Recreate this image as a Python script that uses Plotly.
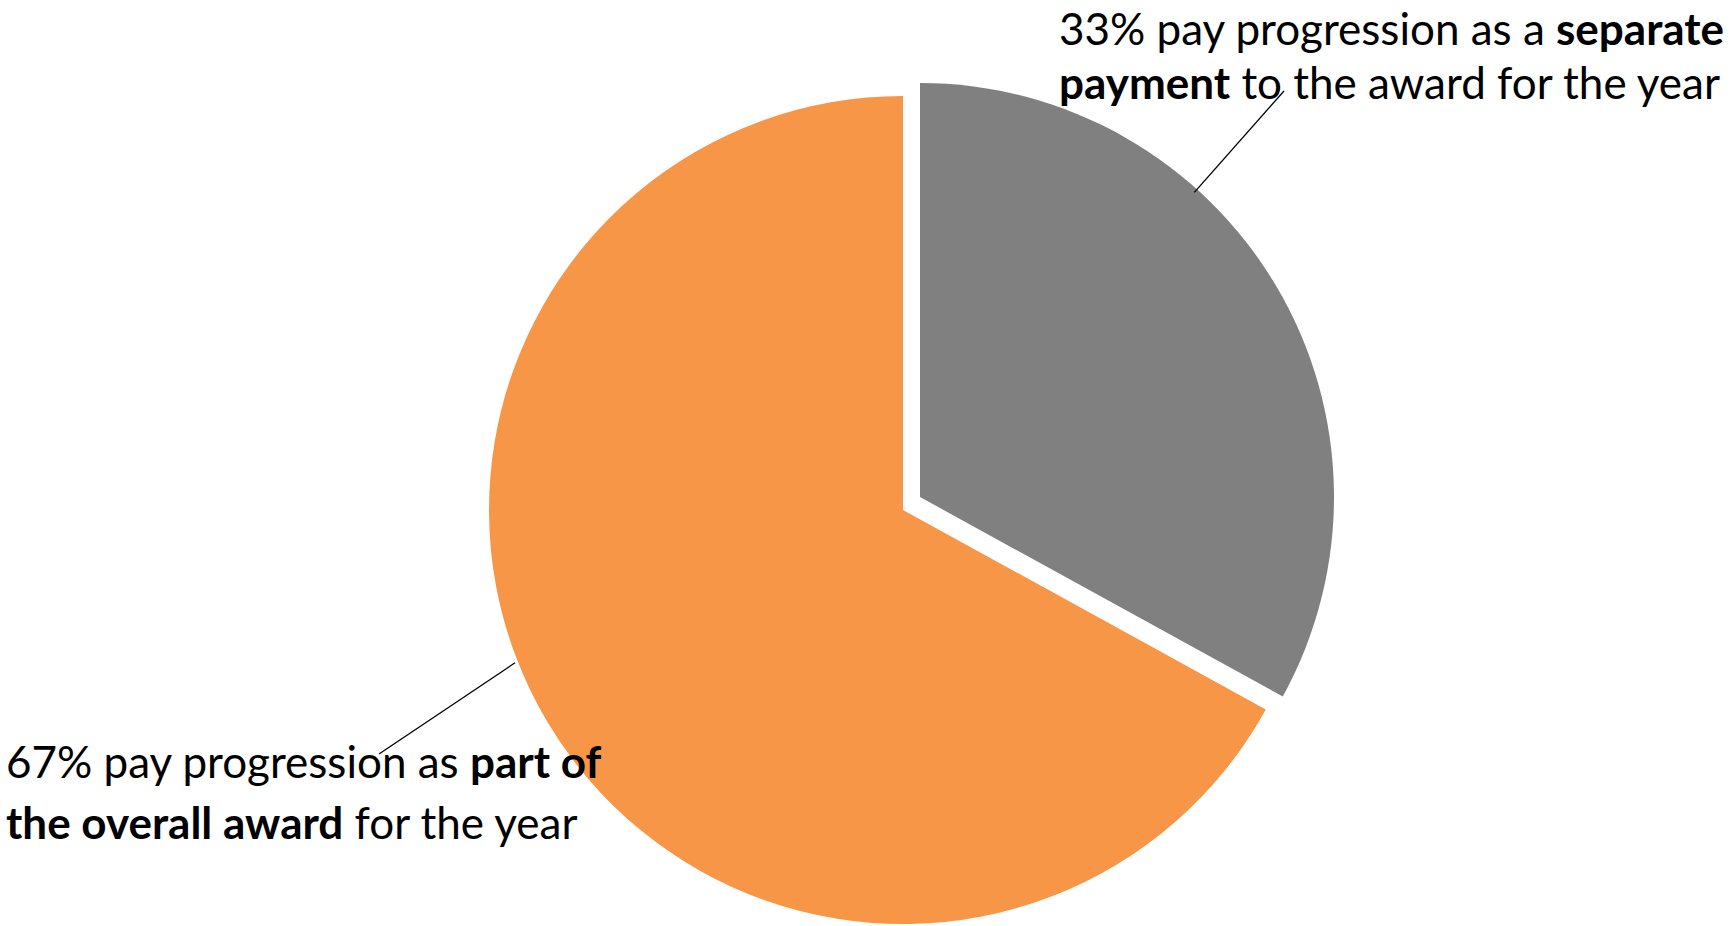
import math
import plotly.graph_objects as go

# Survey result: how pay progression is delivered
labels = ["separate payment", "part of the overall award"]
shares = [33, 67]
colors = ["#808080", "#F79646"]

label_lines = [
    ["33% pay progression as a <b>separate</b>",
     "<b>payment</b> to the award for the year"],
    ["67% pay progression as <b>part of</b>",
     "<b>the overall award</b> for the year"],
]

W, H = 1732, 926
FONT = "Lato, 'Open Sans', sans-serif"
FONT_SIZE = 44
R = 414                      # pie radius in px
CENTER = (903, 510)          # centre of the pie (px, from top-left)
PULL_OFFSET = (17, -13)      # the grey slice is pulled out by this much

def domain(cx, cy, r):
    return dict(x=[(cx - r) / W, (cx + r) / W],
                y=[1 - (cy + r) / H, 1 - (cy - r) / H])

def px(x, y):
    return x / W, 1 - y / H

fig = go.Figure()
clear = "rgba(0,0,0,0)"
# Each slice gets its own layer so the pulled-out slice keeps full size.
for i, (dx, dy) in enumerate([PULL_OFFSET, (0, 0)]):
    slice_cols = [c if j == i else clear for j, c in enumerate(colors)]
    fig.add_trace(go.Pie(
        labels=labels, values=shares, sort=False, direction="clockwise",
        rotation=0, textinfo="none", hoverinfo="label+percent",
        marker=dict(colors=slice_cols, line=dict(width=0)),
        domain=domain(CENTER[0] + dx, CENTER[1] + dy, R),
        showlegend=False,
    ))

# Leader lines from the slice edge to each label
def edge_point(i, angle_deg, r):
    dx, dy = [PULL_OFFSET, (0, 0)][i]
    a = math.radians(angle_deg)
    return CENTER[0] + dx + r * math.sin(a), CENTER[1] + dy - r * math.cos(a)

leaders = [
    (edge_point(0, 42, 410), (1284, 91)),
    (edge_point(1, 248.5, 417), (379, 754)),
]
for (x0, y0), (x1, y1) in leaders:
    a0, b0 = px(x0, y0)
    a1, b1 = px(x1, y1)
    fig.add_shape(type="line", xref="paper", yref="paper",
                  x0=a0, y0=b0, x1=a1, y1=b1,
                  line=dict(color="black", width=1.3))

# Label lines, given by the top of each text line (px)
label_pos = [(1057, [0, 54]), (4, [733, 794])]
for lines, (lx, ys) in zip(label_lines, label_pos):
    for txt, ly in zip(lines, ys):
        ax, ay = px(lx, ly)
        fig.add_annotation(text=txt, x=ax, y=ay, xref="paper", yref="paper",
                           xanchor="left", yanchor="top", showarrow=False,
                           font=dict(family=FONT, size=FONT_SIZE, color="black"))

fig.update_layout(width=W, height=H, margin=dict(l=0, r=0, t=0, b=0),
                  paper_bgcolor="white", plot_bgcolor="white")
fig.write_html("out.html")
